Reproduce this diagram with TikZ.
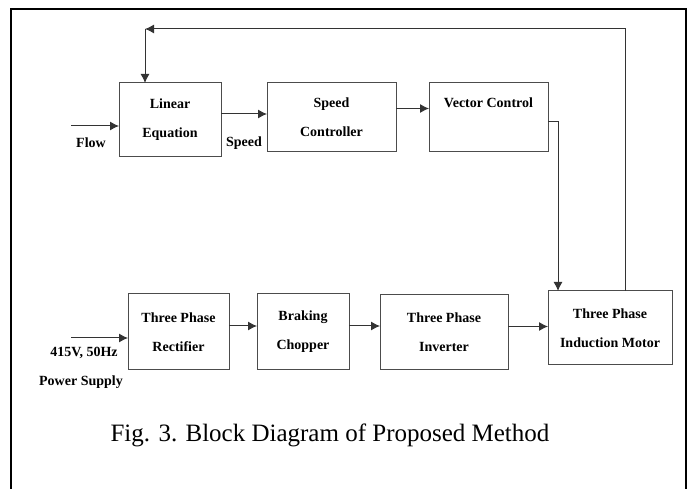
\documentclass[tikz,border=0pt]{standalone}
\usepackage{fontspec}
\setmainfont{Liberation Serif}
\usetikzlibrary{arrows.meta, positioning}

\begin{document}
\begin{tikzpicture}[
			x=1pt, y=-1pt,
			node distance=1.0cm and 1.6cm,
			every node/.style={font=\fontsize{14}{29}\selectfont\bfseries},
			block/.style={rectangle, draw=black!70, line width=1pt, align=center, inner sep=0pt, outer sep=0pt, minimum height=74pt},
			lbl/.style={inner sep=0pt},
			arrow/.style={-{Latex[length=9pt, width=9pt]}, line width=1pt, draw=black!80},
			frame/.style={line width=2pt, draw=black}
			]

			\useasboundingbox (0,0) rectangle (689,489);
			\draw[frame] (11,489) |- (686,9) -- (686,489);

			% top row
			\node[block, minimum width=102pt] (lineq) at (170,120) {Linear\\Equation};
			\node[block, minimum width=129pt, minimum height=69pt, below right=0pt and 46pt of lineq.north east] (spd) {Speed\\Controller};
			\node[block, minimum width=119pt, minimum height=69pt, below right=0pt and 33pt of spd.north east] (vec) {Vector Control\\\mbox{}};

			% bottom row
			\node[block, minimum width=101pt, minimum height=76pt] (rect) at (178.5,332) {Three Phase\\Rectifier};
			\node[block, minimum width=92pt, minimum height=76pt, below right=0pt and 28pt of rect.north east] (chop) {Braking\\Chopper};
			\node[block, minimum width=128pt, minimum height=75pt, below right=1pt and 31pt of chop.north east] (inv) {Three Phase\\Inverter};
			\node[block, minimum width=124pt, minimum height=74pt, below right=-4pt and 40pt of inv.north east] (mot) {Three Phase\\Induction Motor};

			% inputs and labels
			\coordinate (flowin) at (71,126);
			\coordinate (psin) at (71,338);
			\coordinate (fbL) at (145,29);
			\node[lbl] (flow) at (91,143) {Flow};
			\node[lbl] (speed) at (244,143) {Speed};
			\node[lbl] (volt) at (84,353) {415V, 50Hz};
			\node[lbl] (ps) at (81,382) {Power Supply};
			\node[font=\fontsize{25}{28}\selectfont] (cap) at (330,435) {Fig. 3. Block Diagram of Proposed Method};

			\draw[arrow] (flowin) -- (flowin -| lineq.west);
			\draw[arrow] ([yshift=6pt]lineq.east) -- ([yshift=6pt]lineq.east -| spd.west);
			\draw[arrow] ([yshift=9pt]spd.east) -- ([yshift=9pt]spd.east -| vec.west);
			\draw[arrow] ([yshift=-4pt]vec.east) -| ([xshift=10pt]mot.north west);
			\draw[arrow] ([xshift=77pt]mot.north west) |- (fbL);
			\draw[arrow] (fbL) -- (fbL |- lineq.north);

			\draw[arrow] (psin) -- (psin -| rect.west);
			\draw[arrow] ([yshift=6pt]rect.east) -- ([yshift=6pt]rect.east -| chop.west);
			\draw[arrow] ([yshift=6pt]chop.east) -- ([yshift=6pt]chop.east -| inv.west);
			\draw[arrow] ([yshift=6pt]inv.east) -- ([yshift=6pt]inv.east -| mot.west);

		\end{tikzpicture}
\end{document}
